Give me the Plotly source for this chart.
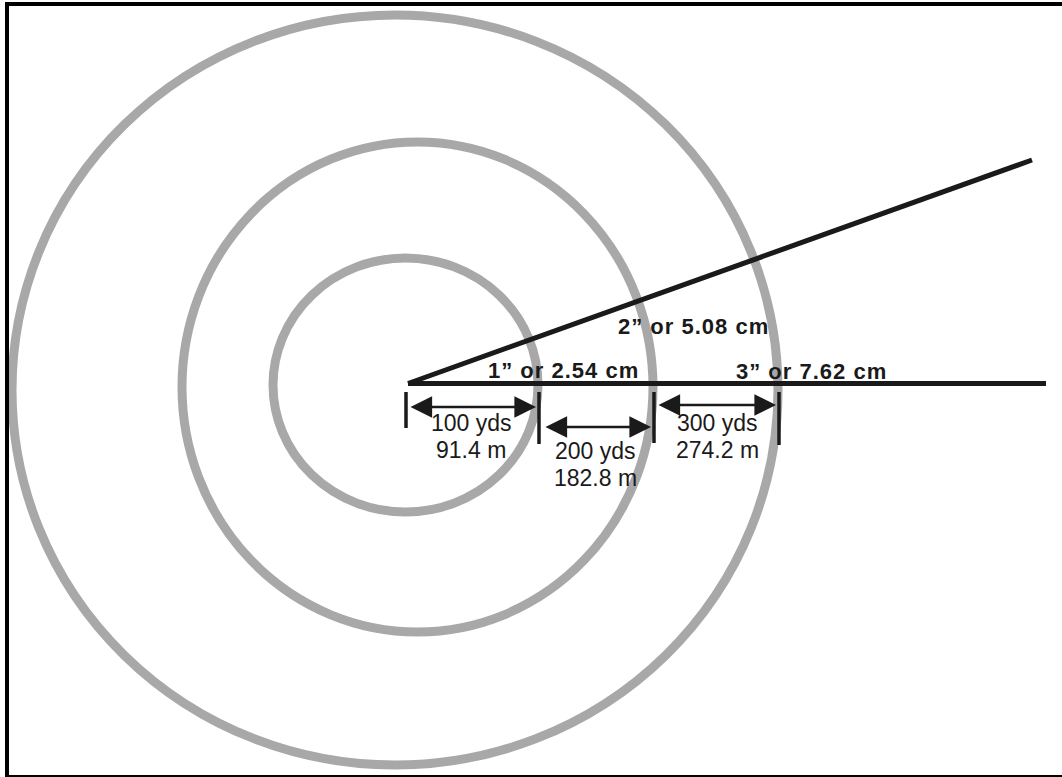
import plotly.graph_objects as go

########################
# 0. DATA
########################

# Range rings
RING_YARDS = [100, 200, 300]
RING_METERS = [91.4, 182.8, 274.2]

# Ruler labels along the sight lines
RULER_INCHES = ["1”", "2”", "3”"]
RULER_CM = [2.54, 5.08, 7.62]

########################
# 1. GEOMETRY (pixel space of the 1062x777 page)
########################

W, H = 1062, 777
ORIGIN = (408, 383.5)

# ring bounding boxes: x0, x1, y0, y1
RING_BOXES = [(273, 538, 258, 512), (182, 653, 142, 632), (12, 778, 15, 765)]
TICK_X = [406, 539, 654, 779]
TICK_BOTTOM = [428, 444, 443, 445]
ARROW_SPANS = [(409, 536, 407), (544, 651, 427), (657, 776, 405)]
YDS_LABEL_POS = [(471, 423, 450), (595, 451, 478), (717, 423, 450)]
RULER_LABEL_POS = [(563, 370), (693, 326), (811, 371)]

RING_COLOR = "#a8a8a8"
INK = "#1a1a1a"
FONT = "Liberation Sans, Arial, sans-serif"


def build_figure():
    fig = go.Figure()

    # rings
    for x0, x1, y0, y1 in RING_BOXES:
        fig.add_shape(type="circle", xref="x", yref="y", x0=x0, x1=x1, y0=y0, y1=y1,
                      line=dict(color=RING_COLOR, width=9), layer="below")

    # sight lines
    ox, oy = ORIGIN
    fig.add_trace(go.Scatter(x=[ox, 1046], y=[oy, oy], mode="lines",
                             line=dict(color=INK, width=5), hoverinfo="skip"))
    fig.add_trace(go.Scatter(x=[ox, 1032], y=[oy, 160], mode="lines",
                             line=dict(color=INK, width=5), hoverinfo="skip"))

    # range ticks
    for tx, tb in zip(TICK_X, TICK_BOTTOM):
        fig.add_trace(go.Scatter(x=[tx, tx], y=[392, tb], mode="lines",
                                 line=dict(color=INK, width=3.5), hoverinfo="skip"))

    # double headed arrows
    for x0, x1, y in ARROW_SPANS:
        fig.add_annotation(x=x1, y=y, ax=x0, ay=y, xref="x", yref="y", axref="x", ayref="y",
                           showarrow=True, arrowhead=2, startarrowhead=2, arrowside="end+start",
                           arrowsize=1.6, startarrowsize=1.6, arrowwidth=2.7, arrowcolor=INK, text="")

    # yard / meter labels
    for yds, m, (cx, y1, y2) in zip(RING_YARDS, RING_METERS, YDS_LABEL_POS):
        fig.add_annotation(x=cx, y=y1, text=f"{yds} yds", showarrow=False,
                           font=dict(family=FONT, size=23, color=INK))
        fig.add_annotation(x=cx, y=y2, text=f"{m} m", showarrow=False,
                           font=dict(family=FONT, size=23, color=INK))

    # ruler labels
    for inch, cm, (cx, cy) in zip(RULER_INCHES, RULER_CM, RULER_LABEL_POS):
        fig.add_annotation(x=cx, y=cy,
                           text=f"<span style='letter-spacing:1px'><b>{inch} or {cm:.2f} cm</b></span>",
                           showarrow=False, font=dict(family=FONT, size=22, color=INK))

    # frame: top, left, bottom
    fig.add_shape(type="line", xref="x", yref="y", x0=5, x1=W, y0=4, y1=4,
                  line=dict(color="black", width=4))
    fig.add_shape(type="line", xref="x", yref="y", x0=7, x1=7, y0=2, y1=H,
                  line=dict(color="black", width=4))
    fig.add_shape(type="line", xref="x", yref="y", x0=5, x1=W, y0=776, y1=776,
                  line=dict(color="black", width=2))

    fig.update_layout(
        width=W, height=H, margin=dict(l=0, r=0, t=0, b=0),
        paper_bgcolor="white", plot_bgcolor="white", showlegend=False,
        xaxis=dict(range=[0, W], visible=False, fixedrange=True),
        yaxis=dict(range=[H, 0], visible=False, fixedrange=True),
    )
    return fig


def main():
    fig = build_figure()
    # drop the default body margin so the figure sits flush with the page
    fig.write_html("out.html", config={"staticPlot": True},
                   post_script="document.body.style.margin='0';document.body.style.overflow='hidden';")


if __name__ == "__main__":
    main()
